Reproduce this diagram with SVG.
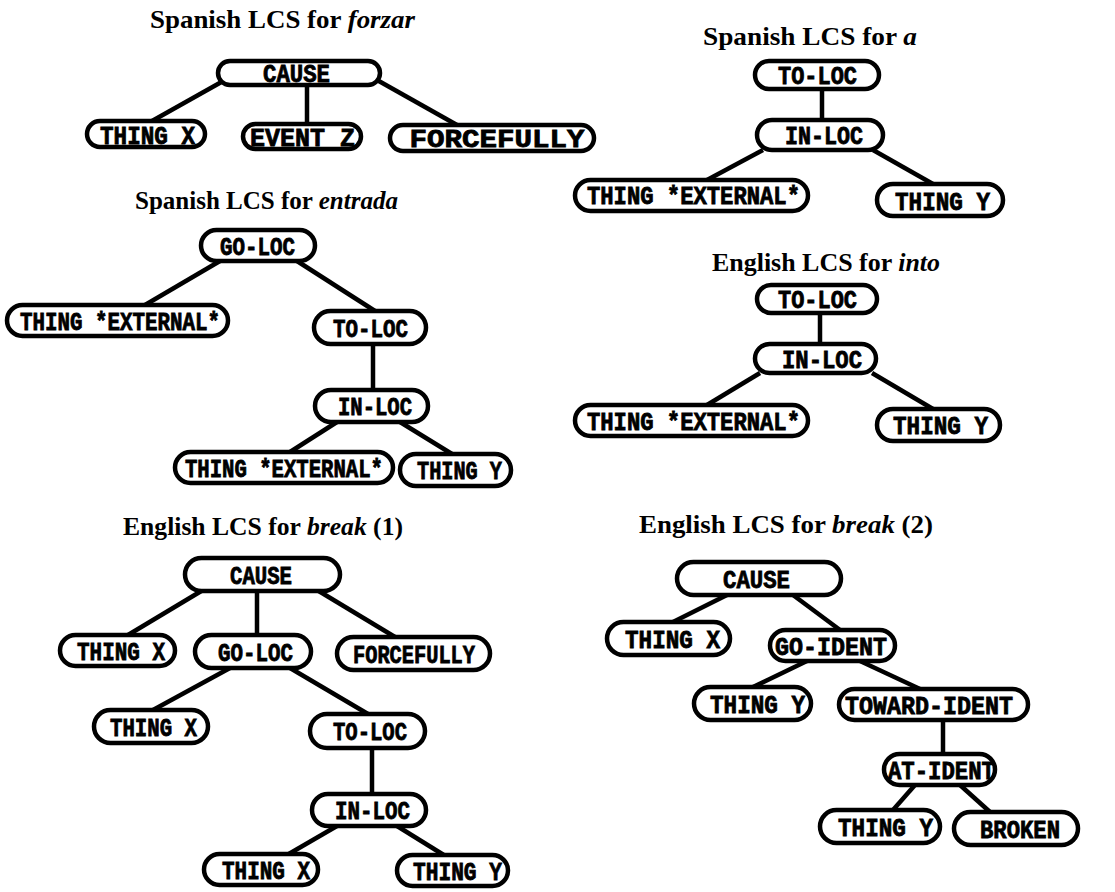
<svg xmlns="http://www.w3.org/2000/svg" width="1115" height="892" viewBox="0 0 1115 892">
<style>
.bg{fill:#fff}
.n rect{fill:#fff;stroke:#000;stroke-width:4.5}
.n text{font-family:"Liberation Mono","DejaVu Sans Mono",monospace;font-weight:bold;font-size:25px;text-anchor:middle;fill:#000;stroke:#000;stroke-width:0.8}
.e line{stroke:#000;stroke-width:4.5;stroke-linecap:butt}
.t{font-family:"Liberation Serif","DejaVu Serif",serif;font-weight:bold;font-size:25px;fill:#000}
.i{font-style:italic}
</style>
<rect class="bg" x="0" y="0" width="1115" height="892"/>

<g id="titles">
<text class="t" x="150" y="28" textLength="265" lengthAdjust="spacingAndGlyphs">Spanish LCS for <tspan class="i">forzar</tspan></text>
<text class="t" x="703" y="45" textLength="214" lengthAdjust="spacingAndGlyphs">Spanish LCS for <tspan class="i">a</tspan></text>
<text class="t" x="135" y="209" textLength="263" lengthAdjust="spacingAndGlyphs">Spanish LCS for <tspan class="i">entrada</tspan></text>
<text class="t" x="712" y="271" textLength="228" lengthAdjust="spacingAndGlyphs">English LCS for <tspan class="i">into</tspan></text>
<text class="t" x="123" y="535" textLength="280" lengthAdjust="spacingAndGlyphs">English LCS for <tspan class="i">break</tspan> (1)</text>
<text class="t" x="639" y="533" textLength="294" lengthAdjust="spacingAndGlyphs">English LCS for <tspan class="i">break</tspan> (2)</text>
</g>

<g id="connectors" class="e">
<line x1="225" y1="80" x2="152" y2="121"/>
<line x1="307" y1="85" x2="307" y2="124"/>
<line x1="377" y1="80" x2="457" y2="125"/>

<line x1="822" y1="89" x2="822" y2="120"/>
<line x1="763" y1="150" x2="707" y2="180"/>
<line x1="873" y1="150" x2="933" y2="184"/>

<line x1="220" y1="261" x2="145" y2="305"/>
<line x1="297" y1="261" x2="375" y2="311"/>
<line x1="373" y1="344" x2="373" y2="390"/>
<line x1="337" y1="422" x2="290" y2="452"/>
<line x1="400" y1="422" x2="452" y2="454"/>

<line x1="820" y1="313" x2="820" y2="344"/>
<line x1="760" y1="373" x2="707" y2="405"/>
<line x1="872" y1="373" x2="933" y2="409"/>

<line x1="203" y1="590" x2="128" y2="635"/>
<line x1="257" y1="591" x2="257" y2="635"/>
<line x1="317" y1="590" x2="395" y2="637"/>
<line x1="230" y1="668" x2="153" y2="710"/>
<line x1="290" y1="668" x2="368" y2="714"/>
<line x1="372" y1="748" x2="372" y2="794"/>
<line x1="337" y1="826" x2="287" y2="855"/>
<line x1="397" y1="826" x2="447" y2="857"/>

<line x1="727" y1="595" x2="673" y2="622"/>
<line x1="793" y1="595" x2="840" y2="630"/>
<line x1="807" y1="661" x2="753" y2="687"/>
<line x1="860" y1="661" x2="920" y2="689"/>
<line x1="943" y1="720" x2="943" y2="754"/>
<line x1="915" y1="785" x2="893" y2="810"/>
<line x1="960" y1="785" x2="990" y2="812"/>
</g>

<!-- Tree 1: forzar -->
<g id="f-cause" class="n"><rect x="218" y="61" width="162" height="24" rx="12"/><text x="296.5" y="82" textLength="67" lengthAdjust="spacingAndGlyphs">CAUSE</text></g>
<g id="f-thingx" class="n"><rect x="87" y="121" width="118" height="26" rx="13"/><text x="147.5" y="144" textLength="95" lengthAdjust="spacingAndGlyphs">THING X</text></g>
<g id="f-eventz" class="n"><rect x="243" y="124" width="118" height="25" rx="12.5"/><text x="302.5" y="146" textLength="105" lengthAdjust="spacingAndGlyphs">EVENT Z</text></g>
<g id="f-forcefully" class="n"><rect x="390" y="125" width="204" height="26" rx="13"/><text x="497" y="147" textLength="175" lengthAdjust="spacingAndGlyphs">FORCEFULLY</text></g>

<!-- Tree 2: a -->
<g id="a-toloc" class="n"><rect x="755" y="61" width="124" height="28" rx="14"/><text x="817.5" y="84" textLength="79" lengthAdjust="spacingAndGlyphs">TO-LOC</text></g>
<g id="a-inloc" class="n"><rect x="757" y="120" width="126" height="30" rx="15"/><text x="824" y="144" textLength="78" lengthAdjust="spacingAndGlyphs">IN-LOC</text></g>
<g id="a-ext" class="n"><rect x="575" y="180" width="233" height="31" rx="15.5"/><text x="693.5" y="204" textLength="213" lengthAdjust="spacingAndGlyphs">THING *EXTERNAL*</text></g>
<g id="a-thingy" class="n"><rect x="877" y="184" width="126" height="32" rx="16"/><text x="942.5" y="209.5" textLength="95" lengthAdjust="spacingAndGlyphs">THING Y</text></g>

<!-- Tree 3: entrada -->
<g id="e-goloc" class="n"><rect x="201" y="230" width="114" height="31" rx="15.5"/><text x="257.5" y="254.5" textLength="75" lengthAdjust="spacingAndGlyphs">GO-LOC</text></g>
<g id="e-ext1" class="n"><rect x="7" y="305" width="221" height="31" rx="15.5"/><text x="120" y="329.5" textLength="200" lengthAdjust="spacingAndGlyphs">THING *EXTERNAL*</text></g>
<g id="e-toloc" class="n"><rect x="314" y="311" width="112" height="33" rx="16.5"/><text x="370.5" y="336.5" textLength="75" lengthAdjust="spacingAndGlyphs">TO-LOC</text></g>
<g id="e-inloc" class="n"><rect x="315" y="390" width="113" height="32" rx="16"/><text x="375" y="415" textLength="74" lengthAdjust="spacingAndGlyphs">IN-LOC</text></g>
<g id="e-ext2" class="n"><rect x="175" y="452" width="218" height="31" rx="15.5"/><text x="284" y="476.5" textLength="198" lengthAdjust="spacingAndGlyphs">THING *EXTERNAL*</text></g>
<g id="e-thingy" class="n"><rect x="400" y="454" width="111" height="32" rx="16"/><text x="459.5" y="479" textLength="85" lengthAdjust="spacingAndGlyphs">THING Y</text></g>

<!-- Tree 4: into -->
<g id="i-toloc" class="n"><rect x="757" y="285" width="120" height="28" rx="14"/><text x="817.5" y="308" textLength="79" lengthAdjust="spacingAndGlyphs">TO-LOC</text></g>
<g id="i-inloc" class="n"><rect x="755" y="344" width="121" height="29" rx="14.5"/><text x="822" y="367.5" textLength="80" lengthAdjust="spacingAndGlyphs">IN-LOC</text></g>
<g id="i-ext" class="n"><rect x="575" y="405" width="233" height="31" rx="15.5"/><text x="693.5" y="429.5" textLength="213" lengthAdjust="spacingAndGlyphs">THING *EXTERNAL*</text></g>
<g id="i-thingy" class="n"><rect x="877" y="409" width="123" height="32" rx="16"/><text x="940.5" y="434" textLength="95" lengthAdjust="spacingAndGlyphs">THING Y</text></g>

<!-- Tree 5: break (1) -->
<g id="b1-cause" class="n"><rect x="185" y="558" width="155" height="33" rx="16.5"/><text x="261" y="583.5" textLength="62" lengthAdjust="spacingAndGlyphs">CAUSE</text></g>
<g id="b1-thingx1" class="n"><rect x="60" y="635" width="115" height="31" rx="15.5"/><text x="121" y="659.5" textLength="88" lengthAdjust="spacingAndGlyphs">THING X</text></g>
<g id="b1-goloc" class="n"><rect x="195" y="635" width="116" height="33" rx="16.5"/><text x="255.5" y="660.5" textLength="75" lengthAdjust="spacingAndGlyphs">GO-LOC</text></g>
<g id="b1-forcefully" class="n"><rect x="337" y="637" width="153" height="33" rx="16.5"/><text x="414" y="662.5" textLength="122" lengthAdjust="spacingAndGlyphs">FORCEFULLY</text></g>
<g id="b1-thingx2" class="n"><rect x="94" y="710" width="114" height="33" rx="16.5"/><text x="153.5" y="735.5" textLength="87" lengthAdjust="spacingAndGlyphs">THING X</text></g>
<g id="b1-toloc" class="n"><rect x="310" y="714" width="115" height="34" rx="17"/><text x="370" y="740" textLength="74" lengthAdjust="spacingAndGlyphs">TO-LOC</text></g>
<g id="b1-inloc" class="n"><rect x="312" y="794" width="114" height="32" rx="16"/><text x="372.5" y="819" textLength="75" lengthAdjust="spacingAndGlyphs">IN-LOC</text></g>
<g id="b1-thingx3" class="n"><rect x="204" y="854" width="114" height="31" rx="15.5"/><text x="266" y="878.5" textLength="88" lengthAdjust="spacingAndGlyphs">THING X</text></g>
<g id="b1-thingy" class="n"><rect x="397" y="855" width="111" height="31" rx="15.5"/><text x="457.5" y="879.5" textLength="89" lengthAdjust="spacingAndGlyphs">THING Y</text></g>

<!-- Tree 6: break (2) -->
<g id="b2-cause" class="n"><rect x="677" y="562" width="164" height="33" rx="16.5"/><text x="756.5" y="587.5" textLength="67" lengthAdjust="spacingAndGlyphs">CAUSE</text></g>
<g id="b2-thingx" class="n"><rect x="607" y="622" width="123" height="33" rx="16.5"/><text x="672.5" y="647.5" textLength="95" lengthAdjust="spacingAndGlyphs">THING X</text></g>
<g id="b2-goident" class="n"><rect x="770" y="630" width="125" height="31" rx="15.5"/><text x="831" y="654.5" textLength="112" lengthAdjust="spacingAndGlyphs">GO-IDENT</text></g>
<g id="b2-thingy1" class="n"><rect x="694" y="687" width="117" height="33" rx="16.5"/><text x="757.5" y="712.5" textLength="95" lengthAdjust="spacingAndGlyphs">THING Y</text></g>
<g id="b2-toward" class="n"><rect x="839" y="689" width="189" height="31" rx="15.5"/><text x="929" y="713.5" textLength="168" lengthAdjust="spacingAndGlyphs">TOWARD-IDENT</text></g>
<g id="b2-atident" class="n"><rect x="884" y="754" width="111" height="31" rx="15.5"/><text x="941.5" y="778.5" textLength="107" lengthAdjust="spacingAndGlyphs">AT-IDENT</text></g>
<g id="b2-thingy2" class="n"><rect x="820" y="810" width="120" height="33" rx="16.5"/><text x="885.5" y="835.5" textLength="95" lengthAdjust="spacingAndGlyphs">THING Y</text></g>
<g id="b2-broken" class="n"><rect x="954" y="812" width="124" height="33" rx="16.5"/><text x="1020" y="837.5" textLength="80" lengthAdjust="spacingAndGlyphs">BROKEN</text></g>
</svg>
